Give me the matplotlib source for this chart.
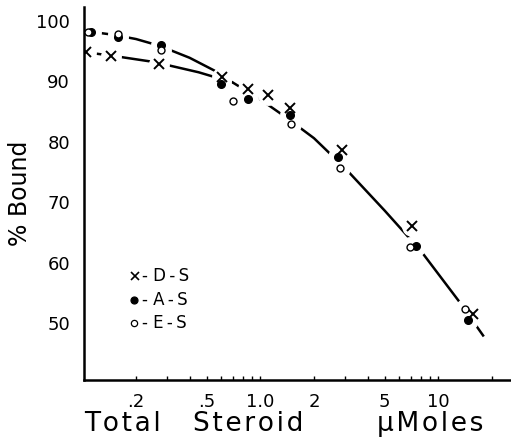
import numpy as np
import matplotlib
matplotlib.use("Agg")
import matplotlib.pyplot as plt
from matplotlib.ticker import FixedLocator, FixedFormatter, NullFormatter

# measured points (total steroid in umoles, % bound)
ds_x = [0.105, 0.145, 0.27, 0.606, 0.855, 1.10, 1.47, 2.86, 7.08, 15.6]
ds_y = [94.8, 94.2, 92.8, 90.8, 88.7, 87.75, 85.6, 78.6, 66.1, 51.5]

as_x = [0.111, 0.159, 0.276, 0.60, 0.848, 1.47, 2.74, 7.48, 14.6]
as_y = [98.2, 97.4, 96.0, 89.5, 87.0, 84.4, 77.5, 62.75, 50.6]

es_x = [0.107, 0.159, 0.276, 0.698, 1.48, 2.80, 6.92, 14.2]
es_y = [98.2, 97.9, 95.2, 86.8, 82.9, 75.7, 62.6, 52.4]

# hand drawn curves
upper_x = [0.105, 0.15, 0.2, 0.27, 0.4, 0.55, 0.7, 1.0, 1.4, 2.0, 3.0, 5.0, 8.0, 13.0, 18.0]
upper_y = [98.3, 97.7, 97.0, 95.9, 93.9, 91.8, 89.8, 87.0, 84.0, 80.6, 75.6, 68.6, 61.9, 53.7, 47.8]
lower_x = [0.105, 0.15, 0.24, 0.3, 0.45, 0.6, 0.7]
lower_y = [94.8, 94.2, 93.3, 92.7, 91.5, 90.4, 89.8]

xticks = [0.2, 0.5, 1.0, 2, 5, 10]
xticklabels = [".2", ".5", "1.0", "2", "5", "10"]
yticks = [50, 60, 70, 80, 90, 100]
xlabel_words = ["Total", "Steroid", "\u03bcMoles"]

fig = plt.figure(figsize=(5.11, 4.40), dpi=100)
ax = fig.add_axes([84/511, 60/440, 427/511, 373/440])

ax.plot(upper_x, upper_y, color="black", lw=1.8, zorder=1, solid_capstyle="butt")
ax.plot(lower_x, lower_y, color="black", lw=1.8, zorder=1, solid_capstyle="butt")

# white patches break the curves at the points, like the original drawing
allx = ds_x + as_x + es_x
ally = ds_y + as_y + es_y
ax.plot(allx, ally, "o", ms=14, color="white", mec="white", zorder=2)

ax.plot(ds_x, ds_y, "x", ms=7, mew=1.4, color="black", zorder=3)
ax.plot(as_x, as_y, "o", ms=5.5, color="black", zorder=3)
ax.plot(es_x, es_y, "o", ms=5, mfc="white", mec="black", mew=1.0, zorder=4)

ax.set_xscale("log")
ax.set_xlim(0.102, 25.6)
ax.set_ylim(40.6, 102.3)

ax.xaxis.set_major_locator(FixedLocator(xticks))
ax.xaxis.set_major_formatter(FixedFormatter(xticklabels))
minor = [0.3, 0.4, 0.6, 0.7, 0.8, 0.9, 3, 4, 6, 7, 8, 9, 20]
ax.xaxis.set_minor_locator(FixedLocator(minor))
ax.xaxis.set_minor_formatter(NullFormatter())
ax.tick_params(axis="x", which="both", direction="in", length=3, width=1, labelsize=13, pad=9)
ax.set_yticks(yticks)
ax.tick_params(axis="y", length=0, labelsize=13, pad=10)

for s in ["top", "right"]:
    ax.spines[s].set_visible(False)
for s in ["left", "bottom"]:
    ax.spines[s].set_linewidth(1.8)

# x label: three words, slightly spaced, as lettered on the original
centers = [122, 248, 430]
for word, cx in zip(xlabel_words, centers):
    fig.text(cx / 511, 16 / 440, "\u200a".join(word), fontsize=19,
             ha="center", va="center")
ax.set_ylabel("% Bound", fontsize=17, labelpad=3)

# legend drawn by hand
leg = [("x", "- D\u2009-\u2009S", "black"), ("o", "- A\u2009-\u2009S", "black"), ("o", "- E\u2009-\u2009S", "white")]
rows = [0.278, 0.214, 0.152]
for (m, lab, fc), yy in zip(leg, rows):
    if m == "x":
        ax.plot([0.12], [yy], "x", ms=6, mew=1.2, color="black", transform=ax.transAxes)
    else:
        ax.plot([0.116], [yy], "o", ms=5 if fc == "black" else 4.5, mfc=fc, mec="black",
                mew=0.9, transform=ax.transAxes)
    ax.text(0.135, yy, lab, fontsize=12, va="center", ha="left", transform=ax.transAxes)

fig.savefig("out.png", dpi=100)
